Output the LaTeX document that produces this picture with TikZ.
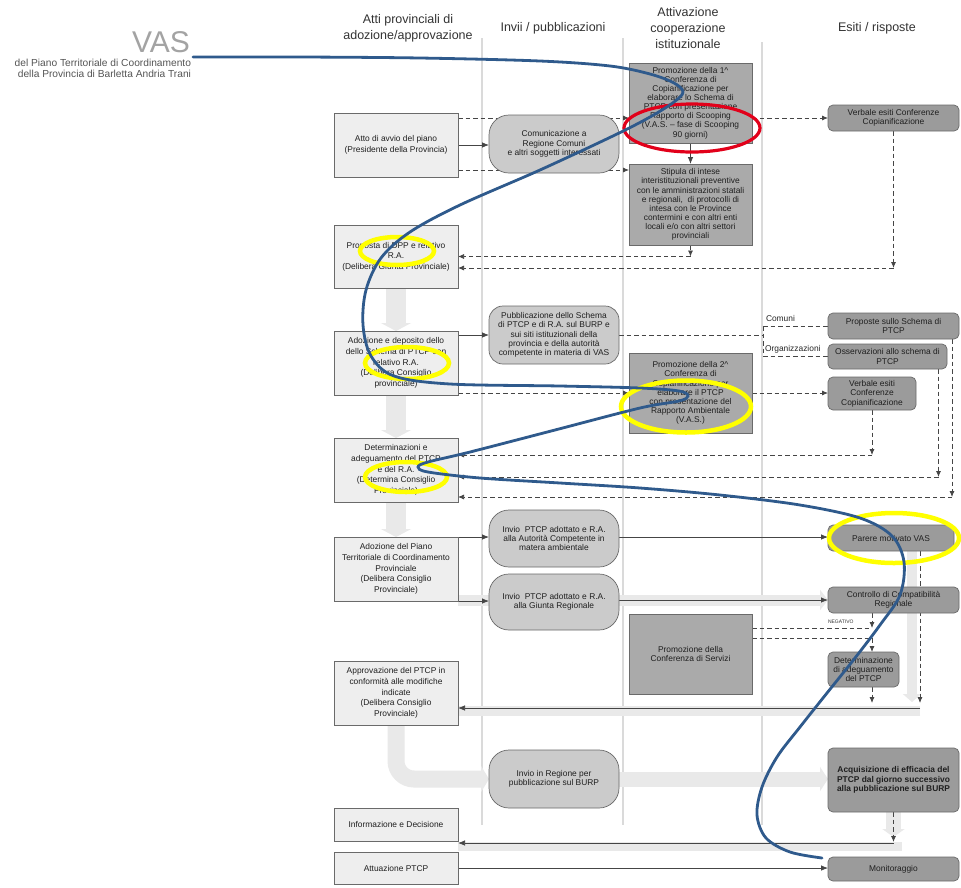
\documentclass[tikz,border=0pt]{standalone}
\usepackage{fontspec}
\setmainfont{Liberation Sans}
\usetikzlibrary{arrows.meta,calc,shapes.geometric}
\definecolor{c1fill}{HTML}{EEEEEE}
\definecolor{c2fill}{HTML}{CBCBCB}
\definecolor{c3fill}{HTML}{AAAAAA}
\definecolor{c4fill}{HTML}{9B9B9B}
\definecolor{edge}{HTML}{6A6A6A}
\definecolor{linkc}{HTML}{454545}
\definecolor{bandc}{HTML}{E9E9E9}
\definecolor{colc}{HTML}{DADADA}
\definecolor{vasblue}{HTML}{2F5A8C}
\definecolor{hl}{HTML}{FFFF00}
\definecolor{redc}{HTML}{E2001A}
\definecolor{vasgray}{HTML}{A3A3A3}
\definecolor{subgray}{HTML}{555555}
\definecolor{hdrc}{HTML}{333333}
\pgfdeclarelayer{bg}
\pgfdeclarelayer{bands}
\pgfdeclarelayer{links}
\pgfdeclarelayer{over}
\pgfsetlayers{bg,bands,links,main,over}
\begin{document}
\begin{tikzpicture}[x=1pt,y=-1pt,
  every node/.style={inner sep=0pt,outer sep=0pt},
  box/.style={draw=edge,line width=0.7pt,align=center,inner sep=1pt,text=black!88},
  colA/.style={box,fill=c1fill,minimum width=124pt,font=\fontsize{8.4}{10.6}\selectfont},
  colB/.style={box,fill=c2fill,minimum width=130pt,rounded corners=20pt,font=\fontsize{8.4}{9.3}\selectfont},
  colC/.style={box,fill=c3fill,minimum width=123pt,font=\fontsize{8.4}{9.1}\selectfont},
  colD/.style={box,fill=c4fill,rounded corners=5pt,font=\fontsize{8.4}{9.4}\selectfont},
  hdr/.style={align=center,font=\fontsize{12.5}{16}\selectfont,text=hdrc},
  lnk/.style={draw=linkc,line width=0.75pt},
  solidarrow/.style={lnk,-{Latex[length=7pt,width=5.5pt]}},
  dashline/.style={lnk,dash pattern=on 4.5pt off 3pt},
  dasharrow/.style={dashline,-{Latex[length=6pt,width=5pt]}},
  bandline/.style={draw=bandc,line width=#1},
  bandtip/.style={-{Triangle[length=8pt 0 0,width=#1 0 0]}},
  colline/.style={draw=colc,line width=1.6pt},
  hlring/.style={draw=hl,line width=4.5pt},
  lbl/.style={font=\fontsize{8.4}{9}\selectfont,text=black!85}
]
\begin{pgfonlayer}{bg}
\fill[white] (0,0) rectangle (961,887);
\end{pgfonlayer}
\useasboundingbox (0,0) rectangle (961,887);

% ---------- headers ----------
\node[anchor=east,font=\fontsize{30}{30}\selectfont,text=vasgray] (vas) at (190,42) {VAS};
\node[anchor=east,align=right,font=\fontsize{10.2}{11}\selectfont,text=subgray] (vassub) at (191,68) {del Piano Territoriale di Coordinamento\\della Provincia di Barletta Andria Trani};
\node[hdr] (h1) at (408,28) {Atti provinciali di\\adozione/approvazione};
\node[hdr] (h2) at (553,28) {Invii / pubblicazioni};
\node[hdr] (h3) at (688,28) {Attivazione\\cooperazione\\istituzionale};
\node[hdr] (h4) at (877,28) {Esiti / risposte};

% ---------- column 1 ----------
\node[colA,minimum height=64pt] (B1) at (396,145) {Atto di avvio del piano\\(Presidente della Provincia)};
\node[colA,minimum height=63pt] (B2) at (396,256.5) {Proposta di DPP e relativo\\R.A.\\(Delibera Giunta Provinciale)};
\node[colA,minimum height=64pt] (B3) at (396,363) {Adozione e deposito dello\\dello Schema di PTCP con\\relativo R.A.\\(Delibera Consiglio\\provinciale)};
\node[colA,minimum height=64pt] (B4) at (396,470) {Determinazioni e\\adeguamento del PTCP\\e del R.A.\\(Determina Consiglio\\Provinciale)};
\node[colA,minimum height=64pt] (B5) at (396,569) {Adozione del Piano\\Territoriale di Coordinamento\\Provinciale\\(Delibera Consiglio\\Provinciale)};
\node[colA,minimum height=64pt] (B6) at (396,693) {Approvazione del PTCP in\\conformità alle modifiche\\indicate\\(Delibera Consiglio\\Provinciale)};
\node[colA,minimum height=33pt] (B7) at (396,824.5) {Informazione e Decisione};
\node[colA,minimum height=32pt] (B8) at (396,868) {Attuazione PTCP};

% ---------- column 2 ----------
\node[colB,minimum height=58pt] (C1) at (554,144) {Comunicazione a\\Regione Comuni\\e altri soggetti interessati};
\node[colB,minimum height=58pt,rounded corners=14pt] (C2) at (554,335) {Pubblicazione dello Schema\\di PTCP e di R.A. sul BURP e\\sui siti istituzionali della\\provincia e della autorità\\competente in materia di VAS};
\node[colB,minimum height=57pt] (C3) at (554,538.5) {Invio\ \ PTCP adottato e R.A.\\alla Autorità Competente in\\matera ambientale};
\node[colB,minimum height=56pt] (C4) at (554,602) {Invio\ \ PTCP adottato e R.A.\\alla Giunta Regionale};
\node[colB,minimum height=58pt] (C5) at (554,779) {Invio in Regione per\\pubblicazione sul BURP};

% ---------- column 3 ----------
\node[colC,minimum height=80pt] (D1) at (690.5,103) {Promozione della 1\textasciicircum\\Conferenza di\\Copianificazione per\\elaborare lo Schema di\\PTCP con presentazione\\Rapporto di Scooping\\(V.A.S. -- fase di Scooping\\90 giorni)};
\node[colC,minimum height=81pt] (D2) at (690.5,204.5) {Stipula di intese\\interistituzionali preventive\\con le amministrazioni statali\\e regionali,\ \ di protocolli di\\intesa con le Province\\contermini e con altri enti\\locali e/o con altri settori\\provinciali};
\node[colC,minimum height=80pt] (D3) at (690.5,393) {Promozione della 2\textasciicircum\\Conferenza di\\Copianificazione per\\elaborare il PTCP\\con presentazione del\\Rapporto Ambientale\\(V.A.S.)};
\node[colC,minimum height=80pt] (D4) at (690.5,654) {Promozione della\\Conferenza di Servizi};

% ---------- column 4 ----------
\node[colD,minimum width=131pt,minimum height=26pt] (E1) at (893.5,118) {Verbale esiti Conferenze\\Copianificazione};
\node[colD,minimum width=131pt,minimum height=26pt] (E2) at (893.5,326) {Proposte sullo Schema di\\PTCP};
\node[colD,minimum width=119pt,minimum height=25pt] (E3) at (887.5,356.5) {Osservazioni allo schema di\\PTCP};
\node[colD,minimum width=88pt,minimum height=33pt] (E4) at (872,393.5) {Verbale esiti\\Conferenze\\Copianificazione};
\node[colD,minimum width=126pt,minimum height=26pt] (E5) at (891,538) {Parere motivato VAS};
\node[colD,minimum width=131pt,minimum height=26pt] (E6) at (893.5,600) {Controllo di Compatibilità\\Regionale};
\node[colD,minimum width=71pt,minimum height=35pt] (E7) at (863.5,669.5) {Determinazione\\di adeguamento\\del PTCP};
\node[colD,minimum width=131pt,minimum height=64pt,font=\fontsize{8.4}{9.6}\selectfont\bfseries] (E8) at (893.5,780) {Acquisizione di efficacia del\\PTCP dal giorno successivo\\alla pubblicazione sul BURP};
\node[colD,minimum width=131pt,minimum height=24pt] (E9) at (893.5,869) {Monitoraggio};

% ---------- small labels ----------
\node[lbl,anchor=west] (comuni) at (766,318) {Comuni};
\node[lbl,anchor=west] (organ) at (765,349) {Organizzazioni};
\node[anchor=west,font=\fontsize{5}{5}\selectfont,text=black!80] (neg) at (828,622) {NEGATIVO};

% ---------- helper coordinates ----------
\coordinate (b1t) at (B1.east |- E1.west);
\coordinate (b1b) at ([yshift=7pt]B1.south east);
\coordinate (b2b) at ([yshift=-11.5pt]B2.east);
\coordinate (b3t) at ([yshift=28pt]B3.east);
\coordinate (sp) at (763,335);
\coordinate (spu) at (sp |- E2.west);
\coordinate (spl) at (sp |- E3.west);
\coordinate (b4a) at ([yshift=15pt]B4.east);
\coordinate (b4b) at ([yshift=-7pt]B4.east);
\coordinate (b4c) at ([yshift=-27pt]B4.east);
\coordinate (e3d) at ([xshift=-8.5pt]E3.south east);
\coordinate (e2d) at ([xshift=-7pt]E2.south east);
\coordinate (b6a) at ([yshift=-15pt]B6.east);
\coordinate (e5d) at ([xshift=-34pt]E5.south east);
\coordinate (rb) at ([xshift=-42pt]E5.south east);
\coordinate (e7t) at ([xshift=8.5pt]E7.north);
\coordinate (e7b) at ([xshift=8.5pt]E7.south);
\coordinate (d4a) at ([yshift=26pt]D4.east);
\coordinate (d4b) at ([yshift=16pt]D4.east);
\coordinate (b7a) at ([yshift=-2pt]B7.south east);

% ---------- column lines and bands ----------
\begin{pgfonlayer}{bands}
  \draw[colline] (482,38) -- (482,825);
  \draw[colline] (623,38) -- (623,825);
  \draw[colline] (762,42) -- (762,825);
  \draw[bandline=20pt,bandtip=30pt] (B2.south) -- (B3.north);
  \draw[bandline=20pt,bandtip=30pt] (B3.south) -- (B4.north);
  \draw[bandline=20pt,bandtip=30pt] (B4.south) -- (B5.north);
  \draw[bandline=11pt,bandtip=20pt] (B5.south east |- E6.west) -- (E6.west);
  \draw[bandline=10pt,bandtip=18pt] (rb) -- ($(rb |- b6a)+(0,-6)$);
  \draw[bandline=10pt] ($(rb |- b6a)+(8,3)$) -- ($(b6a)+(0,3)$);
  \draw[bandline=17pt,bandtip=26pt,rounded corners=18pt] (B6.south) -- (B6.south |- C5.west) -- (C5.west);
  \draw[bandline=15pt,bandtip=24pt] (C5.east) -- (C5.east -| E8.west);
  \draw[bandline=15pt,bandtip=22pt] (E8.south) -- ($(E8.south |- b7a)+(0,-6)$);
  \draw[bandline=9pt] ($(E8.south |- b7a)+(8,3)$) -- ($(b7a)+(0,3)$);
\end{pgfonlayer}

% ---------- connectors ----------
\begin{pgfonlayer}{links}
  \draw[solidarrow] (B1.east) -- (B1.east -| C1.west);
  \draw[dasharrow] (b1t) -- (b1t -| D1.west);
  \draw[dasharrow] (b1b) -- (b1b -| D2.west);
  \draw[solidarrow] (D1.south) -- (D2.north);
  \draw[dasharrow] (D1.east |- E1.west) -- (E1.west);
  \draw[dasharrow] (E1.south) -- (E1.south |- b2b);
  \draw[dasharrow] (E1.south |- b2b) -- (b2b);
  \draw[dasharrow] (D2.south) -- (D2.south |- B2.east);
  \draw[dasharrow] (D2.south |- B2.east) -- (B2.east);
  \draw[solidarrow] (b3t) -- (b3t -| C2.west);
  \draw[dashline] (C2.east) -- (sp);
  \draw[dashline] (spu) -- (spl);
  \draw[dashline] (spu) -- (E2.west);
  \draw[dashline] (spl) -- (E3.west);
  \draw[dasharrow] (B3.east |- D3.west) -- (D3.west);
  \draw[dasharrow] (D3.east) -- (D3.east -| E4.west);
  \draw[dasharrow] (E4.south) -- (E4.south |- b4a);
  \draw[dasharrow] (E4.south |- b4a) -- (b4a);
  \draw[dasharrow] (e3d) -- (e3d |- b4b);
  \draw[dasharrow] (e3d |- b4b) -- (b4b);
  \draw[dasharrow] (e2d) -- (e2d |- b4c);
  \draw[dasharrow] (e2d |- b4c) -- (b4c);
  \draw[solidarrow] (B5.north east) -- (B5.north east -| C3.west);
  \draw[solidarrow] (C3.east |- B5.north east) -- (B5.north east -| E5.west);
  \draw[solidarrow] (B5.south east) -- (B5.south east -| C4.west);
  \draw[solidarrow] (C4.east |- E6.west) -- (E6.west);
  \draw[dasharrow] (e5d) -- ($(e5d |- b6a)+(0,-5)$);
  \draw[solidarrow] (e5d |- b6a) -- (b6a);
  \draw[dasharrow] (e7t |- E6.south) -- (e7t |- d4a);
  \draw[dashline] (d4a) -- (e7t |- d4a);
  \draw[dashline] (d4b) -- (e7t |- d4b);
  \draw[dasharrow] (e7t |- d4b) -- (e7t);
  \draw[dasharrow] (e7b) -- ($(e7b |- b6a)+(0,-5)$);
  \draw[dasharrow] (E8.south) -- ($(E8.south |- b7a)+(0,-1)$);
  \draw[solidarrow] (E8.south |- b7a) -- (b7a);
  \draw[solidarrow] (B8.east) -- (B8.east -| E9.west);
\end{pgfonlayer}

% ---------- highlights ----------
\begin{pgfonlayer}{over}
  \draw[draw=redc,line width=3.2pt] (692,128) ellipse [x radius=68pt,y radius=24pt];
  \draw[hlring] (397,251) ellipse [x radius=37pt,y radius=14pt];
  \draw[hlring] (407,363) ellipse [x radius=42pt,y radius=16pt];
  \draw[hlring] (686,406.5) ellipse [x radius=65pt,y radius=26pt];
  \draw[hlring] (406,477) ellipse [x radius=41pt,y radius=15pt];
  \draw[hlring] (894,538) ellipse [x radius=65pt,y radius=25pt];
  \draw[draw=vasblue,line width=2.8pt,line cap=round] plot[smooth,tension=0.55] coordinates {
    (193,57) (300,57) (420,58) (540,61) (610,66) (650,74) (674,83) (683,92) (674,102)
    (650,117) (615,135) (540,170) (460,205) (410,232) (381,258) (366,290) (363,325)
    (371,356) (394,376) (450,384) (560,386) (640,388) (679,391) (688,396) (679,401)
    (640,408) (555,430) (470,452) (428,462) (418,467) (428,472) (480,478) (560,483)
    (640,488) (720,495) (800,505) (860,518) (892,536) (904,562) (900,595) (880,625)
    (855,658) (827,693) (800,727) (777,757) (762,787) (757,815) (766,838) (790,852) (822,858)};
\end{pgfonlayer}
\end{tikzpicture}
\end{document}
